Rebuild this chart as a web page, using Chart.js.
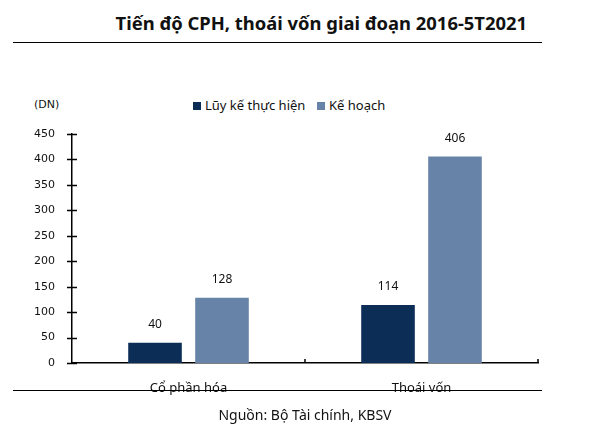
<!DOCTYPE html>
<html>
<head>
<meta charset="utf-8">
<script src="https://cdn.jsdelivr.net/npm/chart.js@4"></script>
<style>
  body { margin: 0; background: #fff; font-family: "Noto Sans", sans-serif; }
  #wrap { position: relative; width: 600px; height: 434px; overflow: hidden; }
  #wrap canvas { position: absolute; left: 0; top: 0; }
  .title { position: absolute; left: 0; width: 527px; top: 10px; text-align: right; font-size: 18.4px; font-weight: bold; color: #111; }
  .rule { position: absolute; left: 13px; width: 529px; height: 0; border-top: 1.5px solid #000; }
  .unit { position: absolute; left: 34px; top: 98px; font-family: "DejaVu Sans", sans-serif; font-size: 11px; color: #111; }
  .legend { position: absolute; top: 96px; font-size: 13px; color: #111; }
  .legend span.sw { display: inline-block; width: 8px; height: 8px; margin-right: 4px; vertical-align: 0px; }
  .source { position: absolute; left: 0; width: 610px; top: 405px; text-align: center; font-size: 14px; color: #111; }
</style>
</head>
<body>
<div id="wrap">
  <div class="title">Tiến độ CPH, thoái vốn giai đoạn 2016-5T2021</div>
  <div class="rule" style="top:42px"></div>
  <div class="unit">(DN)</div>
  <div class="legend" style="left:193px"><span class="sw" style="background:#0b2d56"></span>Lũy kế thực hiện</div>
  <div class="legend" style="left:317px"><span class="sw" style="background:#6783a7"></span>Kế hoạch</div>
  <canvas id="chart" width="600" height="434"></canvas>
  <div class="rule" style="top:390px"></div>
  <div class="source">Nguồn: Bộ Tài chính, KBSV</div>
</div>
<script>
const categories = ["Cổ phần hóa", "Thoái vốn"];
const seriesNames = ["Lũy kế thực hiện", "Kế hoạch"];
const doneValues = [40, 114];
const planValues = [128, 406];
const yTicks = [0, 50, 100, 150, 200, 250, 300, 350, 400, 450];

const valueLabels = {
  id: "valueLabels",
  afterDatasetsDraw(chart) {
    const ctx = chart.ctx;
    ctx.save();
    ctx.font = "12px 'Noto Sans'";
    ctx.fillStyle = "#111";
    ctx.textAlign = "center";
    ctx.textBaseline = "middle";
    chart.data.datasets.forEach((ds, i) => {
      chart.getDatasetMeta(i).data.forEach((bar, j) => {
        ctx.fillText(ds.data[j], bar.x, bar.y - 18);
      });
    });
    ctx.restore();
  }
};

// tick marks crossing the y axis, and small upward ticks on the x axis
const axisTicks = {
  id: "axisTicks",
  afterDraw(chart) {
    const ctx = chart.ctx;
    const y = chart.scales.y;
    const area = chart.chartArea;
    ctx.save();
    ctx.strokeStyle = "#000";
    ctx.lineWidth = 1.5;
    ctx.beginPath();
    yTicks.forEach(v => {
      const py = Math.round(y.getPixelForValue(v)) + 0.5;
      ctx.moveTo(area.left - 5, py);
      ctx.lineTo(area.left + 5, py);
    });
    const step = (area.right - area.left) / categories.length;
    for (let i = 1; i <= categories.length; i++) {
      const px = area.left + step * i;
      ctx.moveTo(px, area.bottom);
      ctx.lineTo(px, area.bottom - 4);
    }
    ctx.stroke();
    ctx.restore();
  }
};

new Chart(document.getElementById("chart"), {
  type: "bar",
  data: {
    labels: categories,
    datasets: [
      { label: seriesNames[0], data: doneValues, backgroundColor: "#0b2d56" },
      { label: seriesNames[1], data: planValues, backgroundColor: "#6783a7" }
    ]
  },
  options: {
    responsive: false,
    animation: false,
    events: [],
    layout: { padding: { left: 0, right: 62, top: 134, bottom: 0 } },
    datasets: { bar: { categoryPercentage: 0.575, barPercentage: 0.8 } },
    plugins: { legend: { display: false }, tooltip: { enabled: false } },
    scales: {
      x: {
        grid: { display: false },
        border: { display: true, color: "#000", width: 1.5 },
        ticks: { color: "#111", font: { family: "Noto Sans", size: 13 }, padding: 9 },
        afterFit: s => { s.height = 71; }
      },
      y: {
        min: 0,
        max: 450,
        grid: { display: false },
        border: { display: true, color: "#000", width: 1.5 },
        ticks: { stepSize: 50, color: "#111", font: { family: "DejaVu Sans", size: 11 }, padding: 9 },
        afterFit: s => { s.width = 72; }
      }
    }
  },
  plugins: [valueLabels, axisTicks]
});
</script>
</body>
</html>
